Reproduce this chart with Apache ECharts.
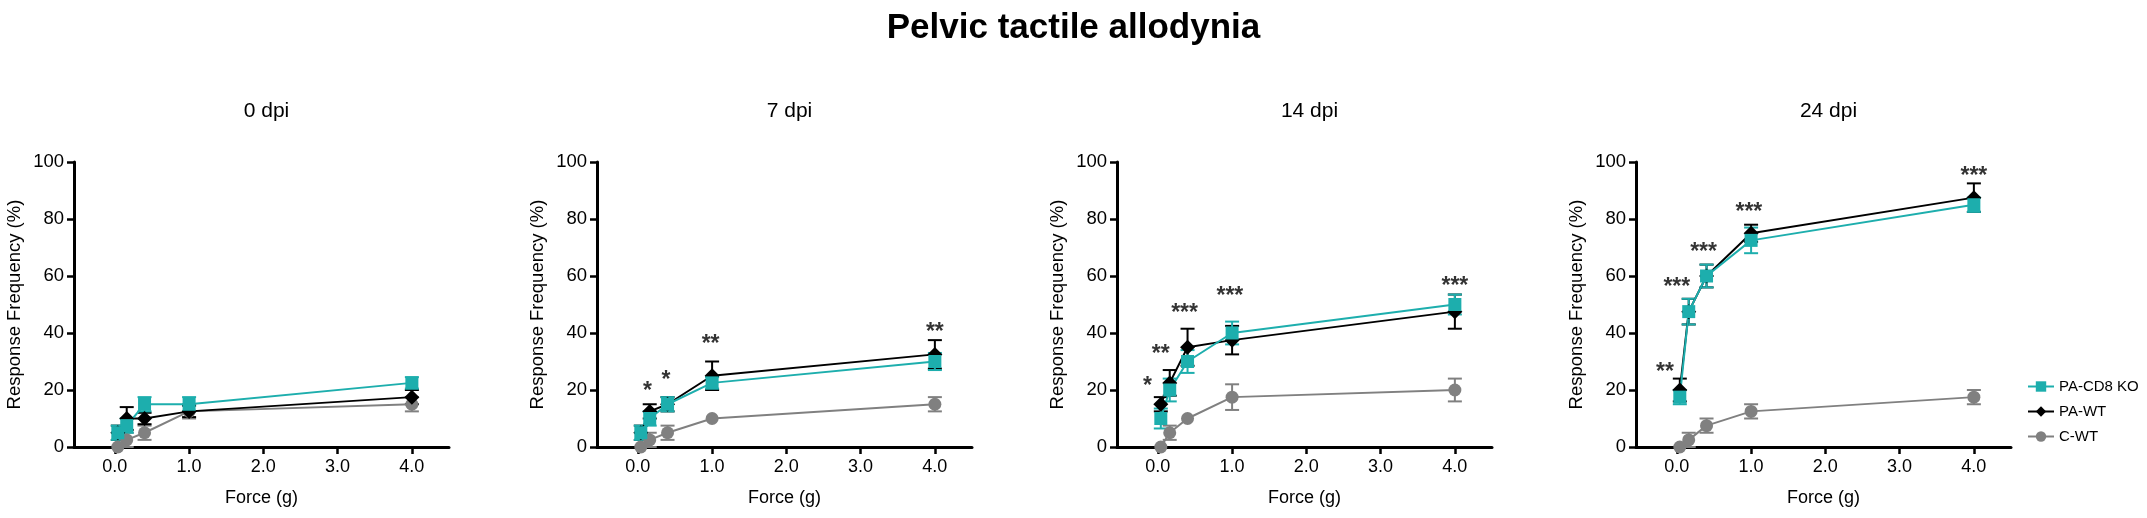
<!DOCTYPE html>
<html>
<head>
<meta charset="utf-8">
<title>Pelvic tactile allodynia</title>
<script src="https://cdn.jsdelivr.net/npm/echarts@6.0.0/dist/echarts.min.js"></script>
<style>
  html, body { margin: 0; padding: 0; background: #fff; }
  #chart { width: 2147px; height: 518px; }
</style>
</head>
<body>
<div id="chart"></div>
<script>
// von Frey filament forces (g)
const forces = [0.04, 0.16, 0.4, 1, 4];
const panelTitles = ['0 dpi', '7 dpi', '14 dpi', '24 dpi'];
const groupNames = ['PA-CD8 KO', 'PA-WT', 'C-WT'];
const forceTicks = [0, 1, 2, 3, 4];

// response frequency (%) per panel, mean and SEM
const koMean = [[5, 7.5, 15, 15, 22.5], [5, 10, 15, 22.5, 30], [10, 20, 30, 40, 50], [17.5, 47.5, 60, 72.5, 85]];
const koErr = [[2.5, 2.5, 2.5, 2.5, 2], [2.5, 2.5, 2.5, 2, 3], [3.5, 4, 4, 4, 3.5], [2.5, 4.5, 4, 4.5, 2.5]];
const wtMean = [[5, 10, 10, 12.5, 17.5], [5, 12.5, 15, 25, 32.5], [15, 22.5, 35, 37.5, 47.5], [20, 47.5, 60, 75, 87.5]];
const wtErr = [[2.5, 4, 2, 2, 2.5], [2.5, 2.5, 2.5, 5, 5], [2.5, 4.5, 6.5, 5, 6], [4, 4.5, 4, 3, 5]];
const cMean = [[0, 2.5, 5, 12.5, 15], [0, 2.5, 5, 10, 15], [0, 5, 10, 17.5, 20], [0, 2.5, 7.5, 12.5, 17.5]];
const cErr = [[0, 2.5, 2.5, 2.5, 2.5], [0, 2.5, 2.5, 0, 2.5], [0, 2.5, 0, 4.5, 4], [0, 2.5, 2.5, 2.5, 2.5]];

// significance marks (where they sit on the plot)
const starX = [[], [0.13, 0.38, 0.98, 4], [-0.14, 0.04, 0.36, 0.97, 4], [-0.16, 0, 0.36, 0.97, 4]];
const starY = [[], [21, 25, 37.5, 42], [23, 34, 48.5, 54.5, 58], [28, 57.5, 70, 84, 96.5]];
const starText = [[], ['*', '*', '**', '**'], ['*', '**', '***', '***', '***'], ['**', '***', '***', '***', '***']];

const FONT = 'Liberation Sans, Arial, sans-serif';
const colors = ['#1daead', '#000000', '#808080'];
const symbols = ['rect', 'diamond', 'circle'];
const symbolSizes = [13, 15, 13];

const gridLeft = [74, 597, 1117, 1636];
const gridWidth = 375;

const chart = echarts.init(document.getElementById('chart'));

function errorBars(color) {
  return function (params, api) {
    const x = api.value(0), m = api.value(1), e = api.value(2);
    if (!e) return;
    const hi = api.coord([x, m + e]);
    const lo = api.coord([x, m - e]);
    const w = 7;
    const st = { stroke: color, lineWidth: 2 };
    return {
      type: 'group',
      children: [
        { type: 'line', shape: { x1: hi[0], y1: hi[1], x2: lo[0], y2: lo[1] }, style: st },
        { type: 'line', shape: { x1: hi[0] - w, y1: hi[1], x2: hi[0] + w, y2: hi[1] }, style: st },
        { type: 'line', shape: { x1: lo[0] - w, y1: lo[1], x2: lo[0] + w, y2: lo[1] }, style: st }
      ]
    };
  };
}

const grids = [], xAxes = [], yAxes = [], series = [], titles = [];

titles.push({
  text: 'Pelvic tactile allodynia',
  left: 'center',
  top: 6,
  textStyle: { fontFamily: FONT, fontSize: 35, fontWeight: 'bold', color: '#000' }
});

panelTitles.forEach((t, p) => {
  grids.push({ left: gridLeft[p], top: 162, width: gridWidth, height: 285, outerBoundsMode: 'none' });
  titles.push({
    text: t,
    left: gridLeft[p] + gridWidth / 2,
    top: 96,
    textAlign: 'center',
    textStyle: { fontFamily: FONT, fontSize: 21, fontWeight: 'normal', color: '#000' }
  });
  xAxes.push({
    type: 'value', gridIndex: p, min: -0.55, max: 4.5,
    name: 'Force (g)', nameLocation: 'middle', nameGap: 42,
    nameTextStyle: { fontFamily: FONT, fontSize: 18, color: '#000' },
    axisLine: { onZero: false, lineStyle: { color: '#000', width: 3 } },
    axisTick: { customValues: forceTicks, length: 7, lineStyle: { color: '#000', width: 2.5 } },
    axisLabel: {
      customValues: forceTicks, margin: 11,
      formatter: v => v.toFixed(1),
      fontFamily: FONT, fontSize: 18, color: '#000'
    },
    splitLine: { show: false }
  });
  yAxes.push({
    type: 'value', gridIndex: p, min: 0, max: 100, interval: 20,
    name: 'Response Frequency (%)', nameLocation: 'middle', nameGap: 50,
    nameTextStyle: { fontFamily: FONT, fontSize: 18.5, color: '#000' },
    axisLine: { show: true, onZero: false, lineStyle: { color: '#000', width: 3 } },
    axisTick: { show: true, length: 7, lineStyle: { color: '#000', width: 2.5 } },
    axisLabel: { margin: 10, fontFamily: FONT, fontSize: 18.5, color: '#000' },
    splitLine: { show: false }
  });

  const means = [koMean[p], wtMean[p], cMean[p]];
  const errs = [koErr[p], wtErr[p], cErr[p]];
  // draw C-WT first, PA-CD8 KO on top
  [2, 1, 0].forEach(g => {
    series.push({
      type: 'custom',
      name: groupNames[g] + ' err',
      xAxisIndex: p, yAxisIndex: p,
      renderItem: errorBars(colors[g]),
      encode: { x: 0, y: 1 },
      data: forces.map((f, i) => [f, means[g][i], errs[g][i]]),
      silent: true
    });
    series.push({
      type: 'line',
      name: groupNames[g],
      xAxisIndex: p, yAxisIndex: p,
      data: forces.map((f, i) => [f, means[g][i]]),
      symbol: symbols[g],
      symbolSize: symbolSizes[g],
      itemStyle: { color: colors[g] },
      lineStyle: { color: colors[g], width: 2 }
    });
  });

  if (starX[p].length) {
    series.push({
      type: 'scatter',
      name: 'stars',
      xAxisIndex: p, yAxisIndex: p,
      symbolSize: 1,
      itemStyle: { color: 'rgba(0,0,0,0)' },
      data: starX[p].map((x, i) => ({ value: [x, starY[p][i]], label: { formatter: starText[p][i] } })),
      label: {
        show: true, position: 'inside', offset: [0, 5],
        fontFamily: FONT, fontSize: 23, fontWeight: 'bold', color: '#000'
      }
    });
  }
});

chart.setOption({
  animation: false,
  backgroundColor: '#fff',
  title: titles,
  legend: {
    data: groupNames,
    orient: 'vertical',
    left: 2022,
    top: 374,
    itemWidth: 26,
    itemHeight: 13,
    itemGap: 10,
    textStyle: { fontFamily: FONT, fontSize: 15, color: '#000' }
  },
  grid: grids,
  xAxis: xAxes,
  yAxis: yAxes,
  series: series
});
</script>
</body>
</html>
